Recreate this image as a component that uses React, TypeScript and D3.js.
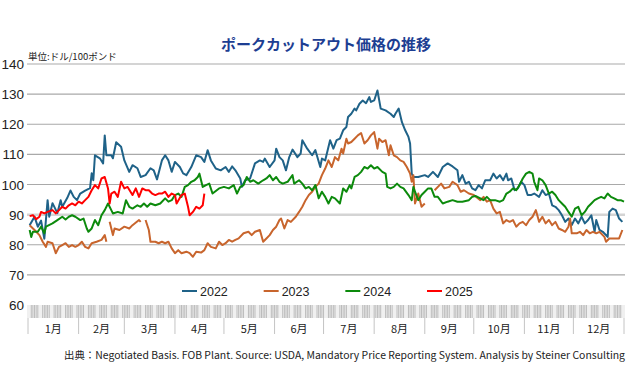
import * as d3 from 'd3';

const title = 'ポークカットアウト価格の推移';
const unitLabel = '単位:ドル/100ポンド';
const sourceNote = '出典：Negotiated Basis. FOB Plant. Source: USDA, Mandatory Price Reporting System. Analysis by Steiner Consulting';

const months = ['1月', '2月', '3月', '4月', '5月', '6月', '7月', '8月', '9月', '10月', '11月', '12月'];
const monthStarts = [0, 31, 59, 90, 120, 151, 181, 212, 243, 273, 304, 334, 365];
const yTicks = [60, 70, 80, 90, 100, 110, 120, 130, 140];

// day of year / price (USD per 100 lb)
const days2022 = [1,4,6,8,10,12,13,15,18,20,21,24,26,28,30,32,35,38,39,40,41,44,46,47,48,51,52,54,57,59,62,64,67,69,72,75,77,79,82,84,86,88,90,93,95,97,100,103,106,108,110,112,115,118,121,123,125,127,130,131,133,136,139,142,144,145,148,151,152,154,156,158,160,162,165,167,168,171,174,176,179,180,182,185,187,189,191,193,195,196,198,200,201,203,205,207,209,210,212,214,216,219,222,224,225,227,229,231,233,234,235,236,239,243,245,248,251,254,257,260,263,264,266,268,270,272,274,276,278,280,283,285,287,289,291,293,294,296,298,300,302,304,306,308,310,313,315,317,319,321,323,325,327,329,331,333,335,337,339,341,343,345,347,348,350,352,355,356,358,360,362,364];
const values2022 = [86.5,89.3,86,88,82,94.8,89.3,93.8,90.5,94.8,92.6,95.5,98,95.9,94.8,97,98,98.8,103.7,101.4,109.7,108.7,107,116.3,109.7,109.7,108.7,114,112.5,108,104.2,106.4,105.4,102.5,103.1,105.4,104.7,101.7,108,109.7,108,104.2,107.5,105.8,103.7,103.1,105.8,109.7,109.1,107.5,111.4,108,105.3,104.7,105.8,104.2,106,104.7,102,99.2,101.4,102,107,108,107.5,108.6,105.8,108,111.9,109.1,108,104.7,109.1,111.6,109.1,110.3,114.7,111.9,109.7,111.4,105.8,108.6,108,114.7,111.9,114.7,115.2,118,119.1,122.4,123.5,125.2,124.6,126.8,127.9,127,129,127.4,127.9,131.2,125.2,124.6,123.5,122.4,123.5,125.2,120.7,118,115.8,113.6,103.6,102.5,102.5,103.1,102.5,104.2,102.5,105.8,107,106,104.7,100.9,103.1,100.3,100.9,98.7,98.1,99.8,98.7,101.4,101.4,103.6,102,103.1,101.4,103.6,101.4,102,98.1,98.7,100.9,99.8,96.5,96.5,97,95.9,98.1,96.5,97,93.1,92.6,91.5,89.8,87.6,88.7,86.5,88.7,87.1,89.3,87.1,88.2,89.8,84.3,88.2,84.9,84.3,82.6,90.9,92,91.5,88.7,87.6];

const days2023 = [1,4,7,9,11,12,15,17,19,21,23,25,27,29,31,33,35,37,39,42,45,47,48,49,50,52,53,56,59,62,64,68,69,70,72,74,75,78,80,82,84,86,88,90,92,94,97,99,101,103,106,108,110,112,115,117,119,121,123,125,127,129,132,135,137,139,142,144,146,148,150,152,154,155,157,159,161,164,166,168,170,172,174,176,178,180,182,184,186,188,190,192,193,195,196,198,200,202,204,206,208,210,212,214,215,217,219,221,222,224,226,228,230,232,234,235,236,237,239,241,243,246,249,253,255,258,260,263,265,267,270,273,277,279,281,283,285,287,289,291,293,295,297,299,301,303,305,307,309,311,313,315,317,319,321,323,325,327,329,331,332,333,336,338,340,342,344,346,348,350,353,354,356,359,362,364];
const values2023 = [86.5,84.9,83.2,81,79.3,81,80.5,77.2,79.3,79.9,80.5,79.3,79.9,79.3,79.9,81,79.3,78.8,80.5,81,81.6,83.2,81,null,87.6,83.2,85.4,84.9,86,85.4,86.5,88.2,87.6,null,88.2,84.9,81,81,80.5,81,80.5,81,78.8,77.2,78.2,77.2,77.7,77.2,76,77.7,77.4,78.2,80.5,79.3,78.8,81,79.9,80.5,81.6,81,81.6,82.1,83.8,84.3,83.2,84.3,84.9,81,82.1,83.2,84.9,86,88.2,88.7,85.4,88.2,87.6,89.3,90.9,92.6,94.8,96.5,97.6,99.2,100.3,103.1,105.3,108,105.8,109.1,108,111.9,110.3,115.2,113.6,114.1,115.2,116.3,117.1,113.6,114.7,116.3,117.4,111.9,115.2,114.1,114.7,109.7,113,109.7,109.1,108,107.5,105.8,103.6,100.9,103.1,93.7,97,92.6,93.7,null,98.1,100.3,98.7,99.2,100.9,99.8,97.6,98.1,97,96.5,94.8,95.9,94.3,94.8,92,90.4,90.9,87.1,88.2,87.6,88.2,86,87.1,87.6,86.5,88.2,89.3,91.5,87.6,89.3,87.1,88.2,86.5,87.6,85.4,84.9,84.3,86,88.7,83.8,83.8,84.3,83.2,84.9,83.8,84.3,83.8,84.3,82.6,81,82.1,82.1,82.1,84.9];

const days2024 = [1,2,3,6,8,10,11,15,18,21,23,25,27,29,32,34,36,37,39,41,43,45,47,49,51,52,55,58,60,62,64,67,69,71,73,75,78,81,84,86,88,90,92,94,96,98,100,102,104,105,107,109,111,113,117,120,123,126,128,130,132,134,136,138,141,144,146,148,150,152,154,156,159,162,163,166,168,170,172,174,176,178,180,182,184,186,188,191,193,195,197,198,200,202,204,206,208,210,212,214,217,219,220,222,224,226,228,230,233,235,236,237,239,241,243,245,247,249,251,254,257,260,263,266,270,272,274,277,279,281,283,286,289,291,293,295,297,299,301,303,305,307,309,310,312,313,315,317,319,321,323,325,327,329,331,333,335,337,339,341,343,345,347,349,351,353,355,357,359,361,363,365];
const values2024 = [84.9,82.6,84.3,84.3,86,83.8,86,87.1,88.2,89.3,88.4,89.3,89.8,89.3,88.2,88.7,85.4,84.3,85.4,88.2,86.5,89.8,91.5,93.7,91.5,90.4,90.9,90.4,94.8,92.6,92,93.1,92.6,93.7,92.6,93.7,93.1,93.7,95.4,94.3,94.8,96.5,97,95.9,99.2,99.8,100.9,101.4,102.5,103.6,99.2,99.8,100.3,97,98.7,99.2,98.7,99.8,97,99.2,99.8,102.5,100.9,101.4,100.3,101.4,102,103.1,101.4,102.5,100.9,100.3,100.9,103.1,100.3,101.4,100.3,98.7,99.2,98.1,99.8,95.4,97.6,95.9,93.7,95.9,95.4,93.7,98.7,97.6,99.8,98.7,102.5,103.1,104.2,105.8,105.3,106.4,105.3,105.8,104.2,103.6,99.2,98.7,99.2,100.3,99.2,98.7,96.5,94.8,99.2,97.6,94.8,96.5,97.6,98.7,98.7,95.9,95.9,93.7,94.3,94.8,94.3,94.3,94.8,95.9,96.2,95.4,94.8,95.9,94.8,94.8,94.3,94.8,97,97.6,98.7,98.1,99.8,102,103.6,104.2,103.6,100.9,98.1,102,101.4,99.8,97,97.6,96.5,94.8,93.7,92.6,90.9,89.3,92,92.6,89.8,90.9,92.6,93.7,94.8,95.4,95.9,95.4,97,95.9,95.4,94.8,94.8,94.3];

const days2025 = [1,3,5,7,8,10,12,15,17,19,21,23,25,27,29,31,33,35,37,39,41,43,45,47,49,50,51,53,55,57,59,61,64,66,68,70,72,74,76,78,80,82,84,86,88,90,91,94,96,98,99,101,103,105,107,108];
const values2025 = [89.5,89.8,88.5,89.3,90.9,90.4,90.9,91.5,90.4,91.5,92.6,92,93.1,93.7,93.1,94.3,93.7,94.8,95.9,98.1,99.8,98.7,102,102.5,98.7,93.7,97,97.6,95.9,100.9,98.7,99.2,96.5,98.7,95.9,98.7,98.1,98.1,97,96.5,97,97,97.6,95.9,97,96.5,93.7,96.5,97,92.6,89.8,90.9,92.6,92,93.1,97];

const series = [
  { name: '2022', color: '#1f6288', days: days2022, values: values2022 },
  { name: '2023', color: '#c8652d', days: days2023, values: values2023 },
  { name: '2024', color: '#0c8a0c', days: days2024, values: values2024 },
  { name: '2025', color: '#ff0000', days: days2025, values: values2025 },
];

const jp = '"Noto Sans CJK JP", "Noto Sans", sans-serif';
const num = '"Liberation Sans", Arial, sans-serif';

export default function App() {
  const width = 630;
  const height = 390;
  const x = d3.scaleLinear().domain([0, 365]).range([28, 624]);
  const y = d3.scaleLinear().domain([60, 140]).range([305, 64]);

  const line = d3
    .line<[number, number | null]>()
    .defined((d) => d[1] != null)
    .x((d) => x(d[0]))
    .y((d) => y(d[1] as number));

  // axis ticks on business days
  const tickDays = d3.range(0, 365).filter((d) => d % 7 !== 0 && d % 7 !== 1);
  const legendX = d3.scalePoint<string>().domain(series.map((s) => s.name)).range([182, 427]);

  return (
    <svg width={width} height={height} style={{ position: 'absolute', left: 0, top: 0, background: '#fff' }}>
      <text x={326} y={50} textAnchor="middle" fontFamily={jp} fontWeight="bold" fontSize={15} fill="#1d3e92">
        {title}
      </text>
      <text x={28} y={60} fontFamily={jp} fontSize={9.5} fill="#222">
        {unitLabel}
      </text>

      {yTicks.map((t) => (
        <g key={t}>
          {t > 60 && (
            <line
              x1={27}
              x2={625}
              y1={y(t)}
              y2={y(t)}
              stroke={t === 90 ? '#d4d4d4' : '#a9a9a9'}
              strokeWidth={t === 90 ? 2.5 : 1.2}
            />
          )}
          <text x={24} y={y(t) + 5} textAnchor="end" fontFamily={num} fontSize={13.5} fill="#222">
            {t}
          </text>
        </g>
      ))}

      {/* dense tick band */}
      <rect x={27} y={305} width={598} height={13} fill="#f0f0f0" />
      {tickDays.map((d) => (
        <line key={d} x1={x(d)} x2={x(d)} y1={305} y2={318} stroke="#bcbcbc" strokeWidth={1} />
      ))}
      {monthStarts.map((d) => (
        <line key={'m' + d} x1={x(d)} x2={x(d)} y1={318} y2={334} stroke="#c4c4c4" strokeWidth={1} />
      ))}
      {months.map((m, i) => (
        <text
          key={m}
          x={(x(monthStarts[i]) + x(monthStarts[i + 1])) / 2}
          y={333}
          textAnchor="middle"
          fontFamily={jp}
          fontSize={11}
          fill="#222"
        >
          {m}
        </text>
      ))}

      {series.map((s) => (
        <path
          key={s.name}
          d={line(s.days.map((d, i) => [d, s.values[i]] as [number, number | null])) ?? ''}
          fill="none"
          stroke={s.color}
          strokeWidth={2}
          strokeLinejoin="round"
        />
      ))}

      {series.map((s) => (
        <g key={'lg' + s.name} transform={`translate(${legendX(s.name)},291)`}>
          <line x1={0} x2={15} y1={0} y2={0} stroke={s.color} strokeWidth={2} />
          <text x={18} y={4.5} fontFamily={num} fontSize={12.5} fill="#222">
            {s.name}
          </text>
        </g>
      ))}

      <text
        x={625}
        y={359}
        textAnchor="end"
        fontFamily={jp}
        fontSize={10}
        fill="#222"
        textLength={561}
        lengthAdjust="spacingAndGlyphs"
      >
        {sourceNote}
      </text>
    </svg>
  );
}
